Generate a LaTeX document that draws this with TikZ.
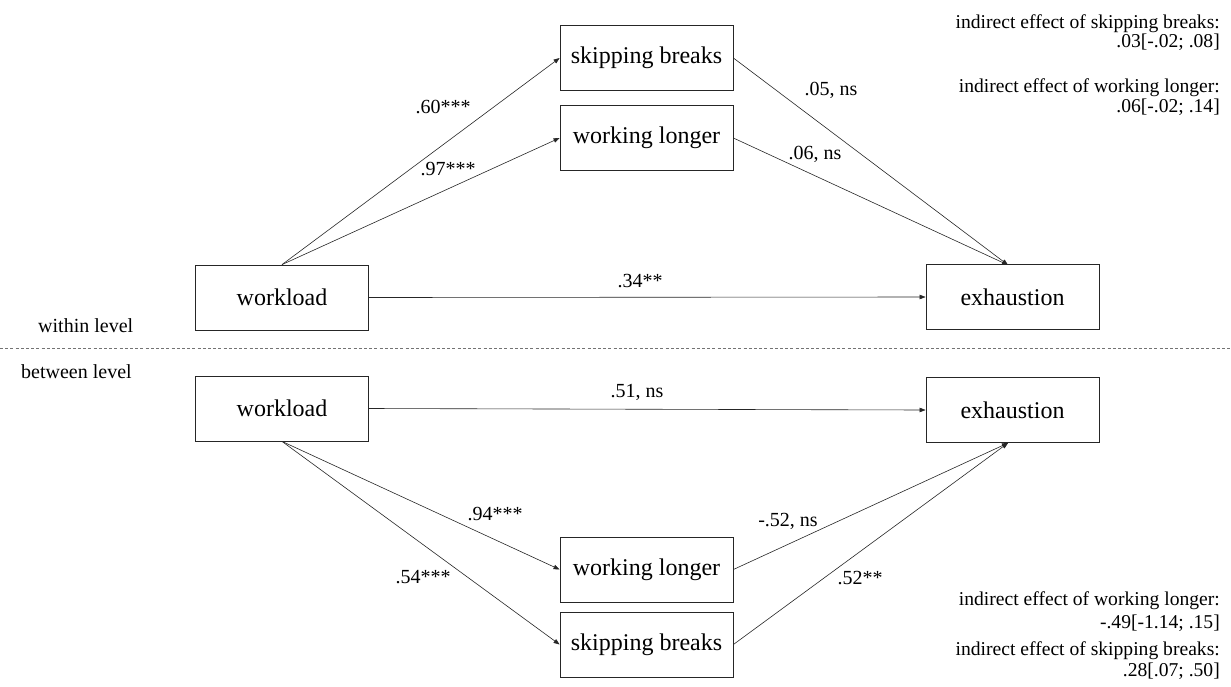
\documentclass[tikz,border=0pt]{standalone}
\usepackage{fontspec}
\setmainfont{Liberation Serif}
\usetikzlibrary{arrows.meta}
\tikzset{
  box/.style={draw=black!85, line width=0.8pt, minimum width=173pt, minimum height=65pt, inner sep=0pt, font=\fontsize{24}{28}\selectfont},
  arr/.style={draw=black!85, line width=0.6pt, -{Triangle[length=6pt,width=4.5pt]}},
  lbl/.style={anchor=base, inner sep=0pt, font=\fontsize{20}{24}\selectfont},
  side/.style={anchor=base east, inner sep=0pt, font=\fontsize{19.6}{23}\selectfont},
  lvl/.style={anchor=base west, inner sep=0pt, font=\fontsize{20}{24}\selectfont},
  sep/.style={draw=black!55, line width=0.8pt, dash pattern=on 3pt off 2.2pt}
}
\begin{document}
\begin{tikzpicture}[x=1pt,y=-1pt]
\useasboundingbox (0,0) rectangle (1231,686);
% within level
\node[box] (sbT) at (646.5,58) {skipping breaks};
\node[box] (wlT) at (646.5,138) {working longer};
\node[box] (wkT) at (282,297.5) {workload};
\node[box] (exT) at (1012.5,297) {exhaustion};
\coordinate (exTin) at (1008,265);
\draw[arr] (wkT.north) -- (sbT.west);
\draw[arr] (wkT.north) -- (wlT.west);
\draw[arr] (sbT.east) -- (exTin);
\draw[arr] (wlT.east) -- (exTin);
\draw[arr] (wkT.east) -- (exT.west);
\node[lbl] (l1) at (443,113) {.60***};
\node[lbl] (l2) at (448,175) {.97***};
\node[lbl] (l3) at (831,95) {.05, ns};
\node[lbl] (l4) at (815,159) {.06, ns};
\node[lbl] (l5) at (640,287) {.34**};
\node[lvl] (within) at (38,332) {within level};
% separator
\coordinate (sepL) at (0,348);
\coordinate (sepR) at (1231,348);
\draw[sep] (sepL) -- (sepR);
\node[lvl] (between) at (21,378) {between level};
% between level
\node[box] (wkB) at (282,408.5) {workload};
\node[box] (exB) at (1012.5,410) {exhaustion};
\node[box] (wlB) at (646.5,569.5) {working longer};
\node[box] (sbB) at (646.5,644.5) {skipping breaks};
\coordinate (exBin) at (1008,443);
\draw[arr] (wkB.east) -- (exB.west);
\draw[arr] (wkB.south) -- (wlB.west);
\draw[arr] (wkB.south) -- (sbB.west);
\draw[arr] (wlB.east) -- (exBin);
\draw[arr] (sbB.east) -- (exBin);
\node[lbl] (l6) at (637,397) {.51, ns};
\node[lbl] (l7) at (495,520) {.94***};
\node[lbl] (l8) at (423,583) {.54***};
\node[lbl] (l9) at (788,526) {-.52, ns};
\node[lbl] (l10) at (860,584) {.52**};
% indirect effects
\node[side] (t1) at (1220,28) {indirect effect of skipping breaks:};
\node[side] (t2) at (1220,47) {.03[-.02;\ .08]};
\node[side] (t3) at (1220,92) {indirect effect of working longer:};
\node[side] (t4) at (1220,112) {.06[-.02;\ .14]};
\node[side] (b1) at (1220,605) {indirect effect of working longer:};
\node[side] (b2) at (1220,628) {-.49[-1.14;\ .15]};
\node[side] (b3) at (1220,655) {indirect effect of skipping breaks:};
\node[side] (b4) at (1220,676) {.28[.07;\ .50]};
\end{tikzpicture}
\end{document}
